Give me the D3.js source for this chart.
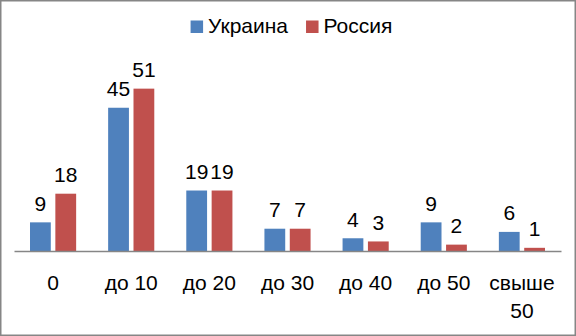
<!DOCTYPE html>
<html>
<head>
<meta charset="utf-8">
<script src="https://cdn.jsdelivr.net/npm/d3@7"></script>
<style>
  html, body { margin: 0; padding: 0; background: #fff; }
  svg { display: block; }
  text { font-family: "Liberation Sans", Arial, sans-serif; fill: #000; }
</style>
</head>
<body>
<svg id="chart" width="576" height="336"></svg>
<script>
// Age groups and counts per country
const categories = ["0", "до 10", "до 20", "до 30", "до 40", "до 50", "свыше 50"];
const seriesNames = ["Украина", "Россия"];
const ukraine = [9, 45, 19, 7, 4, 9, 6];
const russia = [18, 51, 19, 7, 3, 2, 1];
const seriesColors = ["#4F81BD", "#C0504D"];

const W = 576, H = 336;
const plot = { left: 14, right: 561, top: 60, bottom: 251 };
const fontSize = 21;

const svg = d3.select("#chart");

// Chart frame
svg.append("rect")
  .attr("x", 0.75).attr("y", 0.75)
  .attr("width", W - 1.5).attr("height", H - 1.5)
  .attr("fill", "#fff")
  .attr("stroke", "#868686")
  .attr("stroke-width", 1.5);

const rows = categories.map((c, i) => ({ cat: c, values: [ukraine[i], russia[i]] }));

const x0 = d3.scaleBand().domain(categories).range([plot.left, plot.right]).padding(0);
const inner = 16;
const x1 = d3.scaleBand().domain(seriesNames)
  .range([inner, x0.bandwidth() - inner])
  .paddingInner(0.18).paddingOuter(0);
const y = d3.scaleLinear().domain([0, 60]).range([plot.bottom, plot.top]);

// Bars
const groups = svg.append("g").selectAll("g")
  .data(rows).join("g")
  .attr("transform", d => `translate(${x0(d.cat)},0)`);

groups.selectAll("rect")
  .data(d => d.values.map((v, k) => ({ name: seriesNames[k], v, k })))
  .join("rect")
  .attr("x", d => x1(d.name))
  .attr("y", d => y(d.v))
  .attr("width", x1.bandwidth())
  .attr("height", d => y(0) - y(d.v))
  .attr("fill", d => seriesColors[d.k]);

// Value labels
groups.selectAll("text.val")
  .data(d => d.values.map((v, k) => ({ name: seriesNames[k], v, k })))
  .join("text")
  .attr("class", "val")
  .attr("x", d => x1(d.name) + x1.bandwidth() / 2)
  .attr("y", d => y(d.v) - 11.5)
  .attr("text-anchor", "middle")
  .attr("font-size", fontSize)
  .text(d => d.v);

// Category axis
const axis = svg.append("g")
  .attr("transform", `translate(0,${plot.bottom})`)
  .call(d3.axisBottom(x0).tickSize(0).tickPadding(0));
axis.select(".domain").attr("stroke", "#868686").attr("stroke-width", 1.3);
axis.selectAll(".tick text").remove();
axis.selectAll(".tick").each(function(c) {
  const t = d3.select(this).append("text")
    .attr("text-anchor", "middle")
    .attr("font-size", fontSize)
    .attr("y", 39);
  const parts = c.startsWith("свыше") ? c.split(" ") : [c];
  parts.forEach((p, i) => {
    t.append("tspan").attr("x", 0).attr("dy", i === 0 ? 0 : 28).text(p);
  });
});

// Legend
const legend = svg.append("g");
let lx = 0;
seriesNames.forEach((n, k) => {
  const g = legend.append("g");
  g.append("rect").attr("x", 0).attr("y", 20.5).attr("width", 12.5).attr("height", 12.5)
    .attr("fill", seriesColors[k]);
  const t = g.append("text").attr("x", 17.5).attr("y", 33.3)
    .attr("font-size", fontSize).text(n);
  const w = 17.5 + t.node().getComputedTextLength();
  g.attr("transform", `translate(${lx},0)`);
  lx += w + 18;
});
const totalW = lx - 18;
legend.attr("transform", `translate(${291.5 - totalW / 2},0)`);
</script>
</body>
</html>
